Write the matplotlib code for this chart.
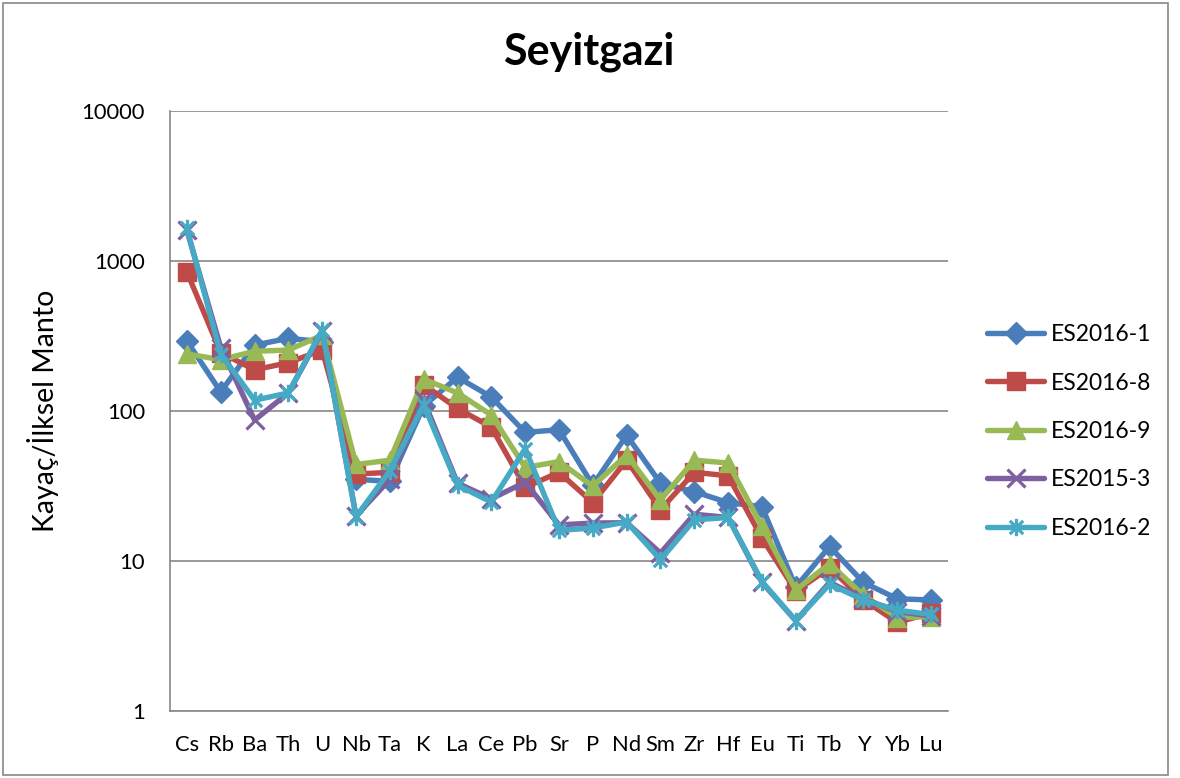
import numpy as np
import matplotlib
matplotlib.use("Agg")
import matplotlib.pyplot as plt
from matplotlib.path import Path
from matplotlib.patches import Rectangle
from matplotlib.ticker import FixedLocator, FixedFormatter, NullLocator

plt.rcParams['font.family'] = ['Lato', 'DejaVu Sans']

# --- data (rock / primitive mantle) ---
elements = ['Cs', 'Rb', 'Ba', 'Th', 'U', 'Nb', 'Ta', 'K', 'La', 'Ce', 'Pb', 'Sr',
            'P', 'Nd', 'Sm', 'Zr', 'Hf', 'Eu', 'Ti', 'Tb', 'Y', 'Yb', 'Lu']

es2016_1 = [293, 134, 275, 305, 290, 35, 34, 108, 168, 124, 72, 75,
            32, 69, 33, 29, 24.5, 23, 6.7, 12.5, 7.2, 5.6, 5.5]
es2016_8 = [845, 245, 188, 210, 255, 38, 39, 150, 104, 78, 31, 39,
            24.5, 47, 22, 39, 37, 14.2, 6.3, 9.0, 5.5, 3.9, 4.5]
es2016_9 = [240, 220, 250, 255, 320, 44, 47, 163, 132, 94, 42, 46,
            31.5, 51, 25.5, 47, 45, 17, 6.4, 9.6, 5.9, 4.2, 4.25]
es2015_3 = [1600, 265, 87, 132, 340, 20, 35, 118, 33, 26, 33.5, 17.4,
            17.9, 18, 11.3, 20.5, 19.5, 7.2, 4.0, 7.2, 5.6, 4.6, 4.3]
es2016_2 = [1650, 240, 118, 132, 347, 19.7, 40, 110, 32, 24.7, 56, 16,
            16.6, 18.2, 10.2, 18.8, 19.5, 7.3, 4.0, 7.0, 5.5, 4.7, 4.4]

series_names = ['ES2016-1', 'ES2016-8', 'ES2016-9', 'ES2015-3', 'ES2016-2']
series_vals = [es2016_1, es2016_8, es2016_9, es2015_3, es2016_2]

# excel 2007 farger
colors = ['#4A7EBB', '#BE4B48', '#98B954', '#7D60A0', '#46AAC5']

# stjerne-markør som i Excel (X + loddrett strek)
star = Path([(-1, -1), (1, 1), (-1, 1), (1, -1), (0, -1.3), (0, 1.3)],
            [Path.MOVETO, Path.LINETO, Path.MOVETO, Path.LINETO, Path.MOVETO, Path.LINETO])
markers = [dict(marker='D', markersize=11.5),
           dict(marker='s', markersize=13),
           dict(marker='^', markersize=13.5),
           dict(marker='x', markersize=12.5, markeredgewidth=2.3),
           dict(marker=star, markersize=12.5, markeredgewidth=2.3)]

fig = plt.figure(figsize=(11.8, 7.78), dpi=100)
ax = fig.add_axes([170/1180, 1 - 711/778, (948-170)/1180, (711-111)/778])

x = np.arange(len(elements))
for name, vals, c, m in zip(series_names, series_vals, colors, markers):
    ax.plot(x, vals, color=c, lw=3.9, label=name, solid_joinstyle='round',
            solid_capstyle='round', markerfacecolor=c, markeredgecolor=c, **m)

ax.set_yscale('log')
ax.set_ylim(1, 10000)
ax.set_xlim(-0.5, len(elements) - 0.5)
ax.yaxis.set_major_locator(FixedLocator([1, 10, 100, 1000, 10000]))
ax.yaxis.set_major_formatter(FixedFormatter(['1', '10', '100', '1000', '10000']))
ax.yaxis.set_minor_locator(NullLocator())
ax.set_xticks(x)
ax.set_xticklabels(elements)
ax.tick_params(axis='both', length=0, labelsize=15.8)
ax.tick_params(axis='y', pad=18)
ax.tick_params(axis='x', pad=17)

ax.grid(axis='y', color='#888888', lw=1.2)
ax.set_axisbelow(True)
for s in ['top', 'right']:
    ax.spines[s].set_visible(False)
for s in ['left', 'bottom']:
    ax.spines[s].set_color('#888888')
    ax.spines[s].set_linewidth(1.2)

ax.set_ylabel('Kayaç/İlksel Manto', fontsize=20.5, labelpad=16)
fig.text(589/1180, 1 - 52/778, 'Seyitgazi', fontsize=31, fontweight='bold',
         ha='center', va='center')

fig.legend(loc='upper left', bbox_to_anchor=(987/1180, 1 - 324/778), frameon=False,
           fontsize=16.5, handlelength=2.5, labelspacing=1.2, handletextpad=0.3,
           borderpad=0, borderaxespad=0)

# ytre ramme
fig.patches.append(Rectangle((3/1180, 3/778), 1165/1180, 772/778, transform=fig.transFigure,
                             fill=False, edgecolor='#888888', lw=1.2))

plt.savefig('out.png', dpi=100)
